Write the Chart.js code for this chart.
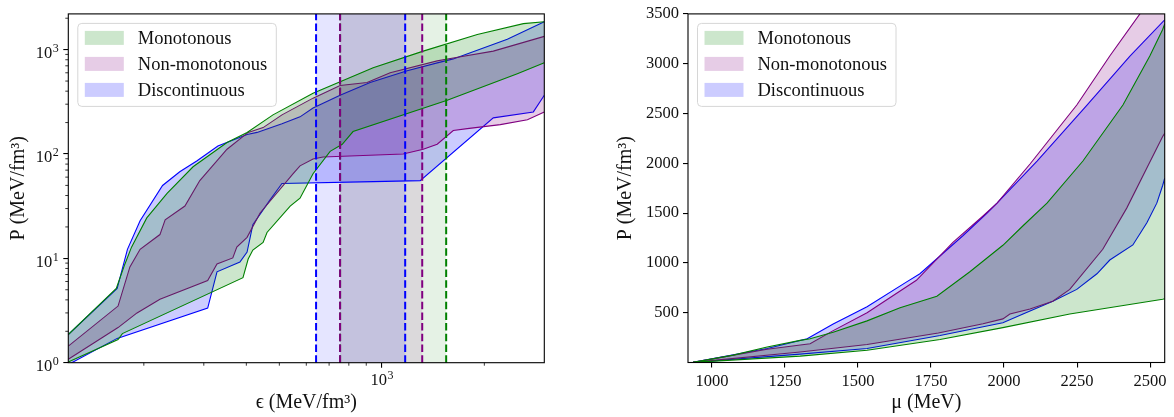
<!DOCTYPE html>
<html>
<head>
<meta charset="utf-8">
<script src="https://cdn.jsdelivr.net/npm/chart.js@4.4.1/dist/chart.umd.min.js"></script>
<style>
  body { margin: 0; background: #fff; }
  #wrap { position: relative; width: 1174px; height: 417px; }
  .panel { position: absolute; top: 0; width: 587px; height: 417px; }
</style>
</head>
<body>
<div id="wrap">
  <div class="panel" style="left:0"><canvas id="left" width="587" height="417"></canvas></div>
  <div class="panel" style="left:587px"><canvas id="right" width="587" height="417"></canvas></div>
</div>
<script>
const legendNames = ["Monotonous", "Non-monotonous", "Discontinuous"];

// left panel: P against energy density (MeV/fm^3), log-log
const monoUpEps = [120, 166, 176, 184, 204, 234, 279, 351, 402, 479, 628, 943, 1323, 1907, 2604, 3000];
const monoUpP = [1.86, 5.15, 8.84, 12.8, 24.4, 42.0, 75.4, 129, 161, 237, 382, 670, 968, 1399, 1774, 1853];
const monoLoEps = [120, 168, 173, 391, 405, 418, 448, 460, 538, 575, 628, 705, 765, 823, 1556, 2500, 3000];
const monoLoP = [1.015, 1.67, 1.90, 6.53, 9.85, 12.0, 14.2, 17.7, 31.7, 37.7, 64.7, 106, 124, 164, 328, 588, 747];

const nonUpEps = [120, 168, 182, 195, 223, 231, 264, 292, 351, 405, 448, 509, 628, 754, 905, 1058, 1454, 1621, 2125, 3000];
const nonUpP = [1.44, 3.49, 8.28, 12.2, 16.9, 23.4, 31.7, 55.6, 111, 161, 179, 237, 343, 454, 484, 601, 780, 832, 968, 1339];
const nonLoEps = [120, 168, 191, 223, 308, 328, 365, 375, 402, 439, 549, 575, 628, 672, 1155, 1323, 1454, 1621, 1782, 2228, 2676, 3000];
const nonLoP = [1.08, 2.17, 3.00, 4.06, 6.12, 8.84, 10.1, 12.8, 15.9, 27.2, 64.7, 77.0, 89.5, 93.5, 100, 111, 124, 168, 175, 191, 213, 253];

const discUpEps = [120, 167, 179, 195, 227, 255, 286, 330, 402, 430, 509, 575, 628, 754, 924, 1187, 1454, 1621, 2336, 3000];
const discUpP = [1.86, 5.15, 12.2, 22.9, 49.9, 67.6, 85.8, 119, 154, 161, 195, 227, 276, 366, 484, 628, 747, 815, 1255, 1853];
const discLoEps = [120, 167, 308, 328, 383, 402, 418, 469, 509, 943, 1296, 2125, 2786, 3000];
const discLoP = [0.96, 1.71, 3.34, 7.43, 9.2, 11.5, 21.0, 36.1, 52.1, 54.4, 55.6, 222, 253, 366];

// transition bounds (energy density) marked by dashed lines
const transMono = [754, 1545];
const transNon = [754, 1314];
const transDisc = [641, 1171];

// right panel: P against chemical potential (MeV)
const monoUpMu = [935, 1073, 1189, 1302, 1336, 1415, 1531, 1644, 1770, 1883, 1996, 2065, 2147, 2270, 2407, 2499, 2543, 2550];
const monoUpPmu = [1, 74, 156, 222, 238, 303, 418, 549, 665, 911, 1177, 1373, 1600, 2023, 2585, 3077, 3343, 3400];
const monoLoMu = [935, 1302, 1531, 1781, 1996, 2225, 2543, 2550];
const monoLoPmu = [1, 64, 123, 231, 350, 487, 635, 640];

const nonUpMu = [935, 1189, 1336, 1415, 1531, 1700, 1825, 1928, 1976, 2089, 2249, 2362, 2465, 2550];
const nonUpPmu = [1, 133, 189, 320, 500, 825, 1206, 1471, 1600, 1993, 2585, 3077, 3500, 3900];
const nonLoMu = [935, 1302, 1531, 1775, 1928, 1996, 2020, 2089, 2167, 2225, 2338, 2420, 2543, 2550];
const nonLoPmu = [1, 106, 180, 297, 389, 438, 487, 537, 615, 734, 1137, 1550, 2269, 2300];

const discUpMu = [935, 1189, 1326, 1415, 1531, 1668, 1712, 1860, 1942, 1976, 2113, 2284, 2431, 2550];
const discUpPmu = [1, 140, 238, 386, 560, 812, 891, 1275, 1501, 1600, 2023, 2585, 3077, 3440];
const discLoMu = [935, 1302, 1531, 1781, 1996, 2065, 2167, 2249, 2318, 2362, 2441, 2489, 2523, 2543, 2550];
const discLoPmu = [1, 84, 140, 271, 399, 487, 615, 734, 891, 1029, 1180, 1403, 1600, 1777, 1850];

// axes
const leftXRange = [120, 3000];
const leftYRange = [1, 2200];
const leftXTicks = [1000];
const leftYTicks = [1, 10, 100, 1000];
const leftXMinor = [200, 300, 400, 500, 600, 700, 800, 900, 2000];
const leftYMinor = [];
for (const d of [1, 10, 100, 1000]) for (let k = 2; k <= 9; k++) leftYMinor.push(k * d);

const rightXRange = [918, 2550];
const rightYRange = [0, 3500];
const rightXTicks = [1000, 1250, 1500, 1750, 2000, 2250, 2500];
const rightYTicks = [500, 1000, 1500, 2000, 2500, 3000, 3500];

const leftXTitle = "ϵ (MeV/fm³)";
const rightXTitle = "μ (MeV)";
const yTitle = "P (MeV/fm³)";

// styles
const FONT = "'Liberation Serif', 'Times New Roman', serif";
const lineColors = ["#008000", "#800080", "#0000ff"];
const fillColors = ["rgba(0,128,0,0.2)", "rgba(128,0,128,0.2)", "rgba(0,0,255,0.2)"];
const spanColors = ["rgba(0,128,0,0.1)", "rgba(128,0,128,0.1)", "rgba(0,0,255,0.1)"];

const pts = (xs, ys) => xs.map((x, i) => ({ x: x, y: ys[i] }));

function bands(list) {
  const out = [];
  list.forEach(([up, lo], i) => {
    out.push({ data: up, borderColor: lineColors[i], backgroundColor: fillColors[i], fill: "+1" });
    out.push({ data: lo, borderColor: lineColors[i], fill: false });
  });
  return out.map(d => Object.assign(d, { borderWidth: 1.1, pointRadius: 0, tension: 0, clip: 0 }));
}

const frame = {
  id: "frame",
  afterDraw(chart) {
    const { ctx, chartArea: a } = chart;
    ctx.save();
    ctx.strokeStyle = "#000";
    ctx.lineWidth = 1.1;
    ctx.strokeRect(a.left, a.top, a.right - a.left, a.bottom - a.top);
    ctx.restore();
  }
};

const legendBox = {
  id: "legendBox",
  afterDraw(chart) {
    const { ctx, chartArea: a } = chart;
    ctx.save();
    ctx.font = "18.5px " + FONT;
    const tw = Math.max(...legendNames.map(n => ctx.measureText(n).width));
    const x0 = a.left + 9.5, y0 = a.top + 9.5;
    const w = 60 + tw + 9, h = 83;
    ctx.beginPath();
    ctx.roundRect(x0, y0, w, h, 4);
    ctx.fillStyle = "rgba(255,255,255,0.8)";
    ctx.fill();
    ctx.strokeStyle = "#d6d6d6";
    ctx.lineWidth = 1;
    ctx.stroke();
    legendNames.forEach((n, i) => {
      const cy = y0 + 14.5 + i * 26;
      ctx.fillStyle = fillColors[i];
      ctx.fillRect(x0 + 7, cy - 7, 39, 14);
      ctx.fillStyle = "#111";
      ctx.textBaseline = "middle";
      ctx.fillText(n, x0 + 60, cy + 1);
    });
    ctx.restore();
  }
};

// minor ticks and 10^n labels of the log axes
const logAxes = {
  id: "logAxes",
  afterDraw(chart) {
    const { ctx, chartArea: a, scales: { x, y } } = chart;
    ctx.save();
    ctx.strokeStyle = "#000";
    ctx.lineWidth = 0.8;
    ctx.beginPath();
    leftXMinor.forEach(v => {
      if (v <= x.min || v >= x.max) return;
      const px = x.getPixelForValue(v);
      ctx.moveTo(px, a.bottom); ctx.lineTo(px, a.bottom + 3);
    });
    leftYMinor.forEach(v => {
      if (v <= y.min || v >= y.max) return;
      const py = y.getPixelForValue(v);
      ctx.moveTo(a.left, py); ctx.lineTo(a.left - 3, py);
    });
    ctx.stroke();

    const baseFont = "16.5px " + FONT, expFont = "12px " + FONT;
    ctx.fillStyle = "#111";
    ctx.textBaseline = "alphabetic";
    ctx.textAlign = "left";
    const label = (v, right, baseY, center) => {
      const e = String(Math.round(Math.log10(v)));
      ctx.font = baseFont;
      const bw = ctx.measureText("10").width;
      ctx.font = expFont;
      const ew = ctx.measureText(e).width;
      const x0 = center === undefined ? right - bw - ew : center - (bw + ew) / 2;
      ctx.font = baseFont;
      ctx.fillText("10", x0, baseY);
      ctx.font = expFont;
      ctx.fillText(e, x0 + bw + 0.5, baseY - 6);
    };
    leftYTicks.forEach(v => label(v, a.left - 10, y.getPixelForValue(v) + 8.2));
    leftXTicks.forEach(v => label(v, 0, a.bottom + 22.5, x.getPixelForValue(v)));
    ctx.restore();
  }
};

const transitions = {
  id: "transitions",
  beforeDatasetsDraw(chart) {
    const { ctx, chartArea: a, scales: { x } } = chart;
    ctx.save();
    [transMono, transNon, transDisc].forEach((t, i) => {
      const x1 = x.getPixelForValue(t[0]), x2 = x.getPixelForValue(t[1]);
      ctx.fillStyle = spanColors[i];
      ctx.fillRect(x1, a.top, x2 - x1, a.bottom - a.top);
    });
    ctx.restore();
  },
  afterDatasetsDraw(chart) {
    const { ctx, chartArea: a, scales: { x } } = chart;
    ctx.save();
    ctx.lineWidth = 2;
    ctx.setLineDash([7.5, 3.2]);
    [transMono, transNon, transDisc].forEach((t, i) => {
      ctx.strokeStyle = lineColors[i];
      t.forEach(v => {
        const px = x.getPixelForValue(v);
        ctx.beginPath();
        ctx.moveTo(px, a.bottom); ctx.lineTo(px, a.top);
        ctx.stroke();
      });
    });
    ctx.restore();
  }
};

const tickFont = { family: FONT, size: 16.5 };
const grid = { drawOnChartArea: false, tickLength: 5, color: "#000", lineWidth: 1.1 };

function axis(type, range, ticks, title, titlePad, size, horizontal) {
  return {
    type: type,
    min: range[0],
    max: range[1],
    afterBuildTicks: s => { s.ticks = ticks.map(v => ({ value: v })); },
    afterFit: s => { if (horizontal) s.height = size; else s.width = size; },
    ticks: {
      autoSkip: false, maxRotation: 0, padding: 4, color: "#111", font: tickFont,
      // log axes get their 10^n labels from the logAxes plugin
      callback: (v, i) => type === "logarithmic" ? "" : String(ticks[i])
    },
    grid: grid,
    border: { display: false },
    title: { display: true, text: title, color: "#111", font: { family: FONT, size: 20 }, padding: titlePad }
  };
}

new Chart(document.getElementById("left"), {
  type: "line",
  data: {
    datasets: bands([
      [pts(monoUpEps, monoUpP), pts(monoLoEps, monoLoP)],
      [pts(nonUpEps, nonUpP), pts(nonLoEps, nonLoP)],
      [pts(discUpEps, discUpP), pts(discLoEps, discLoP)]
    ])
  },
  options: {
    responsive: false,
    animation: false,
    layout: { padding: { top: 7.3, right: 42.7, left: 0, bottom: 0 } },
    plugins: { legend: { display: false }, tooltip: { enabled: false } },
    scales: {
      x: axis("logarithmic", leftXRange, leftXTicks, leftXTitle, { top: 0, bottom: 2 }, 54.3, true),
      y: axis("logarithmic", leftYRange, leftYTicks, yTitle, { top: 7, bottom: 0 }, 68.3, false)
    }
  },
  plugins: [transitions, logAxes, frame, legendBox]
});

new Chart(document.getElementById("right"), {
  type: "line",
  data: {
    datasets: bands([
      [pts(monoUpMu, monoUpPmu), pts(monoLoMu, monoLoPmu)],
      [pts(nonUpMu, nonUpPmu), pts(nonLoMu, nonLoPmu)],
      [pts(discUpMu, discUpPmu), pts(discLoMu, discLoPmu)]
    ])
  },
  options: {
    responsive: false,
    animation: false,
    layout: { padding: { top: 7, right: 9.3, left: 0, bottom: 0 } },
    plugins: { legend: { display: false }, tooltip: { enabled: false } },
    scales: {
      x: axis("linear", rightXRange, rightXTicks, rightXTitle, { top: 0, bottom: 2 }, 54.5, true),
      y: axis("linear", rightYRange, rightYTicks, yTitle, { top: 27, bottom: 0 }, 101, false)
    }
  },
  plugins: [frame, legendBox]
});
</script>
</body>
</html>
